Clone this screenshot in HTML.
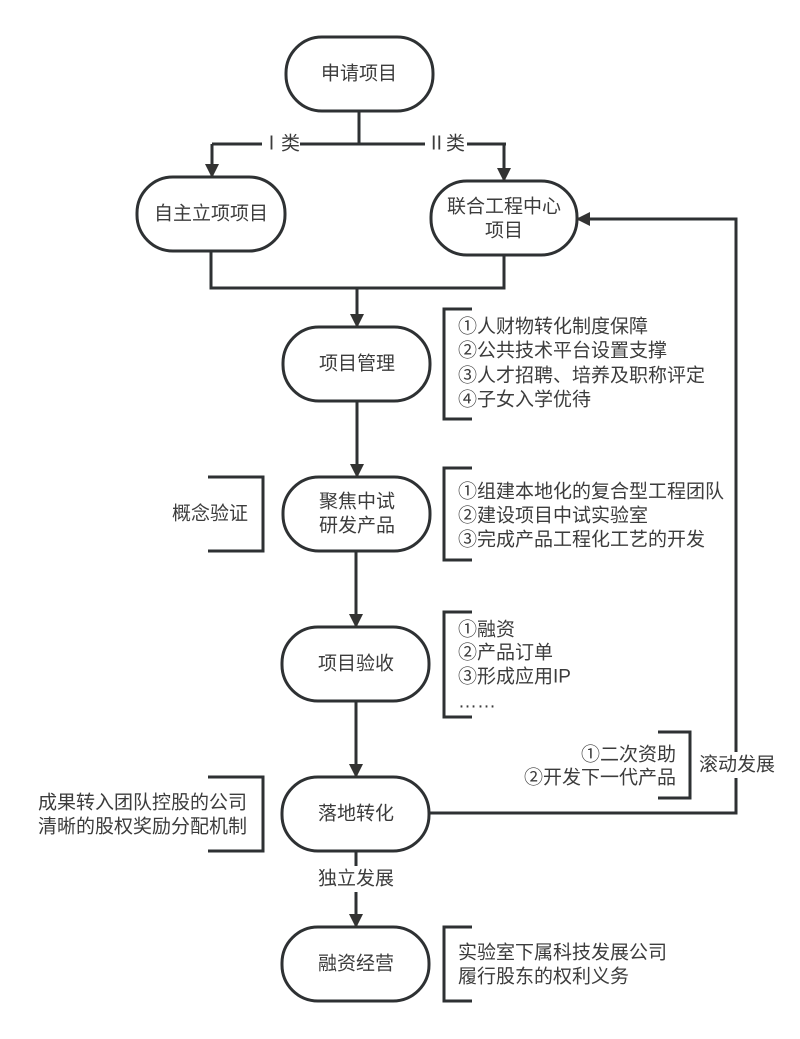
<!DOCTYPE html>
<html><head><meta charset="utf-8"><style>
html,body{margin:0;padding:0;background:#fff;}
svg{display:block;}
text{font-family:"Liberation Sans","Noto Sans CJK SC",sans-serif;fill:#3c3c3c;font-size:19px;}
</style></head><body>
<svg width="800" height="1039" viewBox="0 0 800 1039">
<defs>
<marker id="a" markerWidth="14" markerHeight="14" refX="13" refY="7" orient="auto" markerUnits="userSpaceOnUse">
<path d="M0,0 L14,7 L0,14 Z" fill="#333"/>
</marker>
</defs>
<g fill="none" stroke="#2e3133" stroke-width="3">
<rect x="286" y="37" width="147" height="74" rx="36"/>
<rect x="137" y="177" width="148" height="74" rx="36"/>
<rect x="431" y="181" width="146" height="74" rx="36"/>
<rect x="283" y="327" width="147" height="74" rx="36"/>
<rect x="283" y="477" width="147" height="74" rx="36"/>
<rect x="282" y="627" width="147" height="74" rx="36"/>
<rect x="282" y="777" width="147" height="74" rx="36"/>
<rect x="282" y="927" width="147" height="74" rx="36"/>
<path d="M359,111 V144 M212,144 H506"/>
<path d="M212,144 V177" marker-end="url(#a)"/>
<path d="M504,144 V181" marker-end="url(#a)"/>
<path d="M211,251 V288 H504 V255"/>
<path d="M357,288 V327" marker-end="url(#a)"/>
<path d="M357,401 V477" marker-end="url(#a)"/>
<path d="M356,551 V627" marker-end="url(#a)"/>
<path d="M356,701 V777" marker-end="url(#a)"/>
<path d="M356,851 V927" marker-end="url(#a)"/>
<path d="M429,813 H736 V219 H577" marker-end="url(#a)"/>
<path d="M472,309 H444 V419 H472"/>
<path d="M472,468 H444 V560 H472"/>
<path d="M472,612 H444 V717 H472"/>
<path d="M472,927 H444 V1001 H472"/>
<path d="M208,477 H263 V551 H208"/>
<path d="M208,777 H263 V851 H208"/>
<path d="M658,732 H690 V798 H658"/>
</g>
<rect x="262" y="132" width="38" height="24" fill="#fff"/>
<rect x="425" y="132" width="42" height="24" fill="#fff"/>
<rect x="697" y="752" width="80" height="26" fill="#fff"/>
<rect x="312" y="866" width="88" height="26" fill="#fff"/>
<g text-anchor="middle" dominant-baseline="central">
<text x="359" y="74">申请项目</text>
<text x="211" y="214">自主立项项目</text>
<text x="504" y="207">联合工程中心</text>
<text x="504" y="231">项目</text>
<text x="357" y="364">项目管理</text>
<text x="357" y="502">聚焦中试</text>
<text x="357" y="526">研发产品</text>
<text x="356" y="664">项目验收</text>
<text x="356" y="814">落地转化</text>
<text x="356" y="964">融资经营</text>
<text x="281" y="144">Ⅰ类</text>
<text x="446" y="144">Ⅱ类</text>
<text x="356" y="879">独立发展</text>
<text x="737" y="765">滚动发展</text>
<text x="210" y="514">概念验证</text>
</g>
<g dominant-baseline="central">
<text x="458" y="327">①人财物转化制度保障</text>
<text x="458" y="351">②公共技术平台设置支撑</text>
<text x="458" y="376">③人才招聘、培养及职称评定</text>
<text x="458" y="400">④子女入学优待</text>
<text x="458" y="492">①组建本地化的复合型工程团队</text>
<text x="458" y="516">②建设项目中试实验室</text>
<text x="458" y="540">③完成产品工程化工艺的开发</text>
<text x="458" y="630">①融资</text>
<text x="458" y="653">②产品订单</text>
<text x="458" y="677">③形成应用IP</text>
<text x="458" y="702">……</text>
<text x="458" y="953">实验室下属科技发展公司</text>
<text x="458" y="977">履行股东的权利义务</text>
</g>
<g dominant-baseline="central" text-anchor="end">
<text x="676" y="755">①二次资助</text>
<text x="676" y="778">②开发下一代产品</text>
<text x="247" y="803">成果转入团队控股的公司</text>
<text x="247" y="827">清晰的股权奖励分配机制</text>
</g>
</svg>
</body></html>
